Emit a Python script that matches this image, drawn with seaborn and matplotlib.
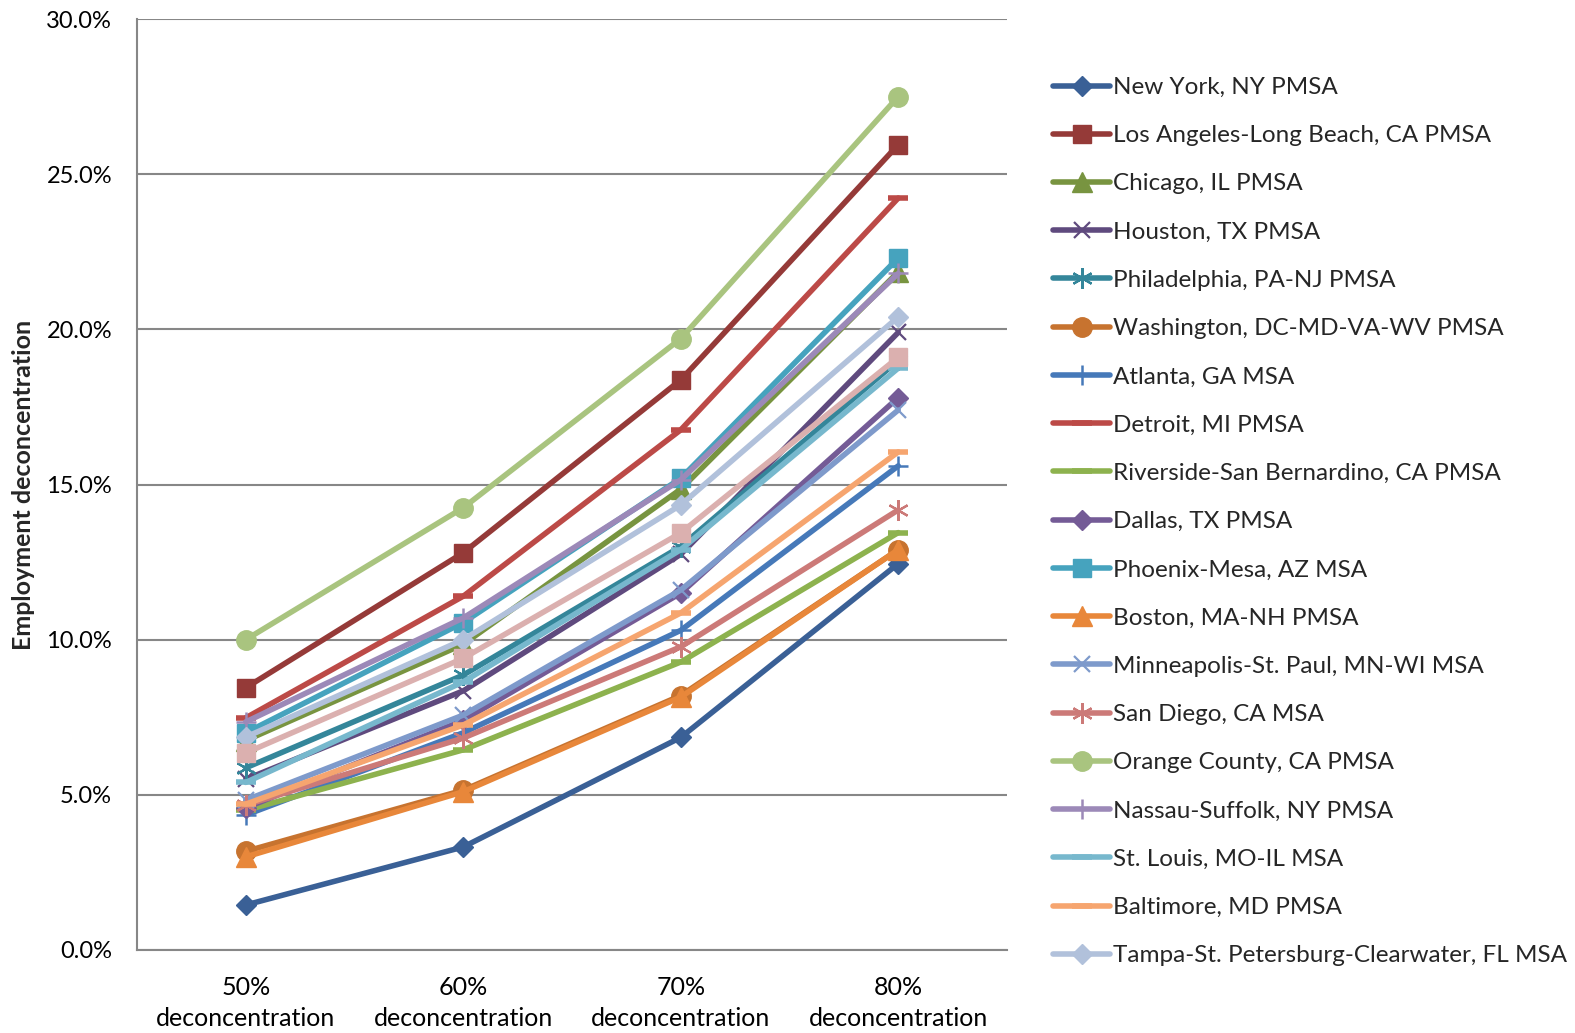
import matplotlib
matplotlib.use("Agg")
import matplotlib.pyplot as plt
import seaborn as sns
import pandas as pd
from matplotlib.ticker import FuncFormatter, MultipleLocator

sns.set_style("white")
plt.rcParams["font.family"] = ["Lato", "DejaVu Sans"]

# ---- data -------------------------------------------------------------
categories = ["50%\ndeconcentration", "60%\ndeconcentration",
              "70%\ndeconcentration", "80%\ndeconcentration"]

metro_names = [
    "New York, NY PMSA",
    "Los Angeles-Long Beach, CA PMSA",
    "Chicago, IL PMSA",
    "Houston, TX PMSA",
    "Philadelphia, PA-NJ PMSA",
    "Washington, DC-MD-VA-WV PMSA",
    "Atlanta, GA MSA",
    "Detroit, MI PMSA",
    "Riverside-San Bernardino, CA PMSA",
    "Dallas, TX PMSA",
    "Phoenix-Mesa, AZ MSA",
    "Boston, MA-NH PMSA",
    "Minneapolis-St. Paul, MN-WI MSA",
    "San Diego, CA MSA",
    "Orange County, CA PMSA",
    "Nassau-Suffolk, NY PMSA",
    "St. Louis, MO-IL MSA",
    "Baltimore, MD PMSA",
    "Tampa-St. Petersburg-Clearwater, FL MSA",
]

new_york      = [1.45, 3.32, 6.85, 12.45]
los_angeles   = [8.45, 12.80, 18.37, 25.95]
chicago       = [6.75, 9.85, 14.85, 21.85]
houston       = [5.50, 8.35, 12.75, 19.90]
philadelphia  = [5.87, 8.86, 13.00, 19.00]
washington    = [3.18, 5.15, 8.20, 12.90]
atlanta       = [4.35, 7.00, 10.30, 15.60]
detroit       = [7.48, 11.40, 16.76, 24.23]
riverside     = [4.50, 6.45, 9.28, 13.45]
dallas        = [4.58, 7.40, 11.50, 17.80]
phoenix       = [7.00, 10.55, 15.20, 22.30]
boston        = [3.00, 5.10, 8.15, 12.90]
minneapolis   = [4.83, 7.57, 11.60, 17.40]
san_diego     = [4.67, 6.83, 9.77, 14.18]
orange_county = [10.00, 14.25, 19.70, 27.50]
nassau        = [7.35, 10.70, 15.15, 21.80]
st_louis      = [5.40, 8.64, 12.90, 18.75]
baltimore     = [4.70, 7.25, 10.86, 16.05]
tampa         = [6.86, 10.00, 14.34, 20.40]
unlisted_metro = [6.35, 9.40, 13.44, 19.10]   # plotted, not in legend

series_values = [new_york, los_angeles, chicago, houston, philadelphia,
                 washington, atlanta, detroit, riverside, dallas, phoenix,
                 boston, minneapolis, san_diego, orange_county, nassau,
                 st_louis, baltimore, tampa, unlisted_metro]
series_labels = metro_names + [None]

colors = ["#3A6096", "#953A38", "#789440", "#5F4A7E", "#34869A", "#C7732F",
          "#4679B9", "#BC4A47", "#8DB24E", "#745B96", "#46A3BE", "#E8873A",
          "#7E9ACB", "#CC7A78", "#A9C47F", "#9C89B8", "#77B8CD", "#F6A56F",
          "#B1C1DB", "#DBB0AF"]

# marker cycle: diamond, square, triangle, x, asterisk, circle, plus, dash, dash
marker_cycle = [("D", 10.5, 1.0), ("s", 13.5, 1.0), ("^", 14, 1.0),
                ("x", 12, 1.6), ((6, 2, 0), 15, 1.6), ("o", 14, 1.0),
                ("+", 15, 1.8), ("_", 14, 4.0), ("_", 14, 4.0)]

# ---- figure -----------------------------------------------------------
W, H = 1575, 1033
fig = plt.figure(figsize=(W / 100, H / 100), dpi=100)
ax = fig.add_axes([137 / W, (H - 950) / H, (1007 - 137) / W, (950 - 19) / H])

x_pos = list(range(len(categories)))
for i, (vals, lab, col) in enumerate(zip(series_values, series_labels, colors)):
    mk, ms, mew = marker_cycle[i % len(marker_cycle)]
    df = pd.DataFrame({"x": x_pos, "y": vals})
    sns.lineplot(data=df, x="x", y="y", ax=ax, color=col, lw=4.0,
                 marker=mk, markersize=ms, markeredgewidth=mew,
                 markeredgecolor=col, markerfacecolor=col,
                 label=lab if lab else "_nolegend_", zorder=3 + i,
                 legend=False)

ax.set_xlim(-0.5, 3.5)
ax.set_ylim(0, 30)
ax.yaxis.set_major_locator(MultipleLocator(5))
ax.yaxis.set_major_formatter(FuncFormatter(lambda v, p: f"{v:.1f}%"))
ax.set_xticks(x_pos)
ax.set_xticklabels(categories, linespacing=1.42)
ax.tick_params(axis="x", length=0, pad=19, labelsize=18, colors="black")
ax.tick_params(axis="y", length=0, pad=18, labelsize=17, colors="black")
ax.set_xlabel("")
ax.set_ylabel("Employment deconcentration", fontsize=18, fontweight="bold")
ax.yaxis.set_label_coords(-0.117, 0.5)

ax.grid(axis="y", color="#878787", lw=1.5)
ax.grid(axis="x", visible=False)
ax.set_axisbelow(True)
for side in ["top", "right"]:
    ax.spines[side].set_visible(False)
for side in ["left", "bottom"]:
    ax.spines[side].set_color("#878787")
    ax.spines[side].set_linewidth(1.5)

handles, labels = ax.get_legend_handles_labels()
fig.legend(handles, labels, loc="upper left",
           bbox_to_anchor=(1053 / W, 1 - 77 / H), frameon=False,
           fontsize=17.5, handlelength=2.35, handletextpad=0.1,
           labelspacing=1.12, borderaxespad=0, borderpad=0)

fig.savefig("out.png", dpi=100, facecolor="white")
